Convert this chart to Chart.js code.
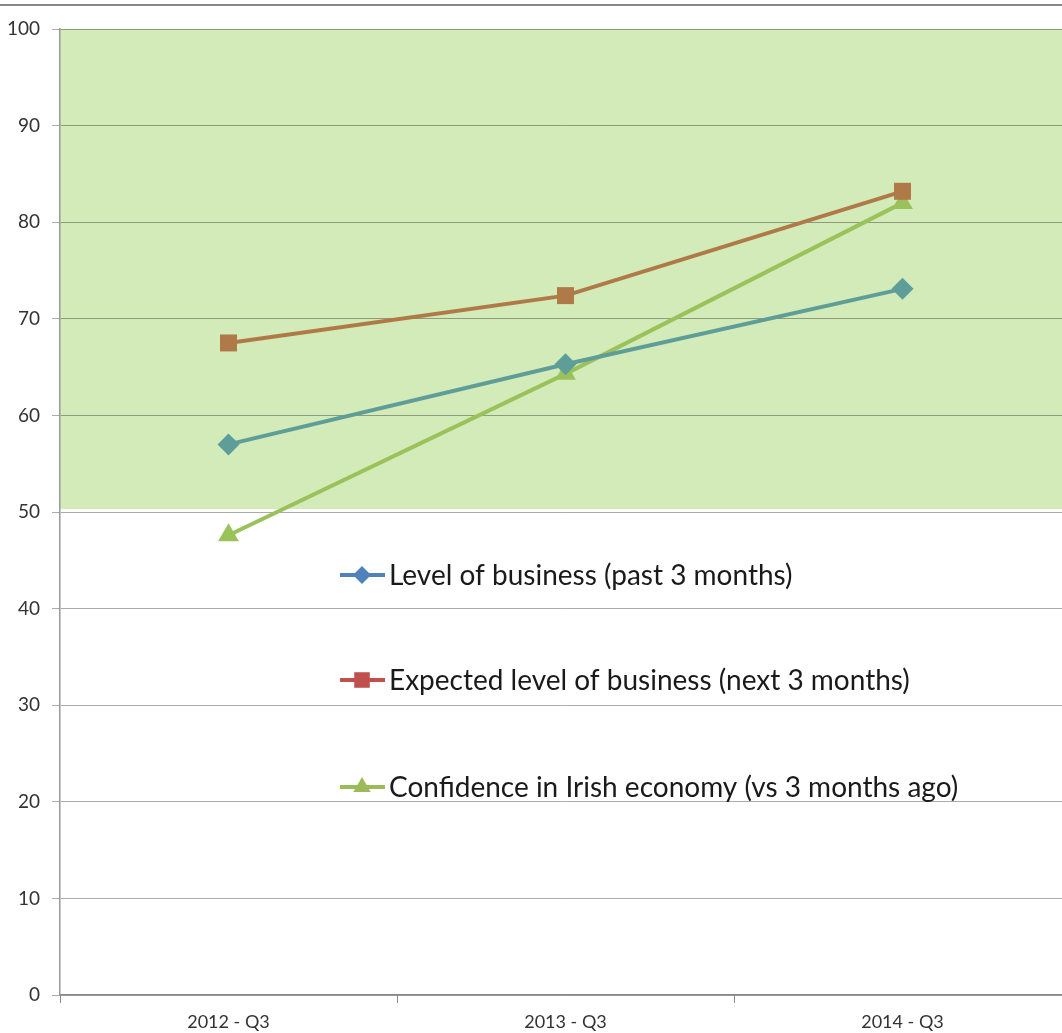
<!DOCTYPE html>
<html>
<head>
<meta charset="utf-8">
<script src="https://cdn.jsdelivr.net/npm/chart.js@4.4.1/dist/chart.umd.min.js"></script>
<style>
  html, body { margin: 0; padding: 0; background: #fff; overflow: hidden; }
  canvas { display: block; }
</style>
</head>
<body>
<!-- a bit wider than the window so the plot runs off the right edge -->
<canvas id="chart" width="1071" height="1033"></canvas>
<script>
const quarters = ['2012 - Q3', '2013 - Q3', '2014 - Q3'];
const pastBusiness = [57.0, 65.3, 73.1];
const expectedBusiness = [67.5, 72.4, 83.2];
const confidence = [47.6, 64.3, 82.0];
const seriesNames = [
  'Level of business (past 3 months)',
  'Expected level of business (next 3 months)',
  'Confidence in Irish economy (vs 3 months ago)'
];
const yTicks = [0, 10, 20, 30, 40, 50, 60, 70, 80, 90, 100];
const bandRange = [50, 100];

const font = 'Lato, "Open Sans", sans-serif';

// green band behind the grid, plus the rule across the top
const band = {
  id: 'band',
  beforeDraw(chart) {
    const { ctx, chartArea, scales } = chart;
    const top = scales.y.getPixelForValue(bandRange[1]);
    const bottom = scales.y.getPixelForValue(bandRange[0]) - 3;
    ctx.save();
    ctx.fillStyle = '#d2ebb8';
    ctx.fillRect(chartArea.left, top, chartArea.right - chartArea.left, bottom - top);
    ctx.strokeStyle = '#888';
    ctx.lineWidth = 2;
    ctx.beginPath();
    ctx.moveTo(0, 5);
    ctx.lineTo(chart.width, 5);
    ctx.stroke();
    ctx.restore();
  }
};

// legend drawn inside the plot with the original series colours
const legendColors = ['#4f81bd', '#c0504d', '#9bbb59'];
const legendMarks = ['rectRot', 'rect', 'triangle'];
const legendRadius = [9, 11, 10];
const insideLegend = {
  id: 'insideLegend',
  afterDraw(chart) {
    const { ctx } = chart;
    const rows = [575, 680, 787];
    ctx.save();
    rows.forEach((y, i) => {
      ctx.strokeStyle = legendColors[i];
      ctx.fillStyle = legendColors[i];
      ctx.lineWidth = 4;
      ctx.beginPath();
      ctx.moveTo(340, y);
      ctx.lineTo(385, y);
      ctx.stroke();
      Chart.helpers.drawPoint(ctx, { pointStyle: legendMarks[i], radius: legendRadius[i], borderWidth: 0 }, 362, y);
      ctx.fillStyle = '#1a1a1a';
      ctx.font = '28px ' + font;
      ctx.textBaseline = 'middle';
      ctx.fillText(seriesNames[i], 389, y + 1);
    });
    ctx.restore();
  }
};

const ctx = document.getElementById('chart').getContext('2d');
new Chart(ctx, {
  type: 'line',
  data: {
    labels: quarters,
    datasets: [{
      label: seriesNames[0],
      data: pastBusiness,
      borderColor: '#5f9e98',
      backgroundColor: '#5f9e98',
      pointStyle: 'rectRot',
      pointRadius: 11
    }, {
      label: seriesNames[1],
      data: expectedBusiness,
      borderColor: '#b07a48',
      backgroundColor: '#b07a48',
      pointStyle: 'rect',
      pointRadius: 12
    }, {
      label: seriesNames[2],
      data: confidence,
      borderColor: '#9bc25a',
      backgroundColor: '#9bc25a',
      pointStyle: 'triangle',
      pointRadius: 12
    }]
  },
  options: {
    responsive: false,
    animation: false,
    layout: { autoPadding: false, padding: { top: 29, left: 0, right: 0, bottom: 0 } },
    elements: {
      line: { borderWidth: 4, tension: 0 },
      point: { borderWidth: 0 }
    },
    plugins: {
      legend: { display: false },
      tooltip: { enabled: false }
    },
    scales: {
      x: {
        offset: true,
        grid: { offset: true, drawOnChartArea: false, color: '#888', tickLength: 8 },
        border: { color: '#888', width: 1.5 },
        ticks: { color: '#333', font: { family: font, size: 18 }, padding: 8 },
        afterFit: s => { s.height = 38; }
      },
      y: {
        min: 0,
        max: 100,
        afterBuildTicks: s => { s.ticks = yTicks.map(v => ({ value: v })); },
        grid: { color: 'rgba(0,0,0,0.33)', tickLength: 8, lineWidth: 1 },
        border: { color: '#999', width: 1.5 },
        ticks: { color: '#333', font: { family: font, size: 19 }, padding: 12 },
        afterFit: s => { s.width = 60; }
      }
    }
  },
  plugins: [band, insideLegend]
});
</script>
</body>
</html>
